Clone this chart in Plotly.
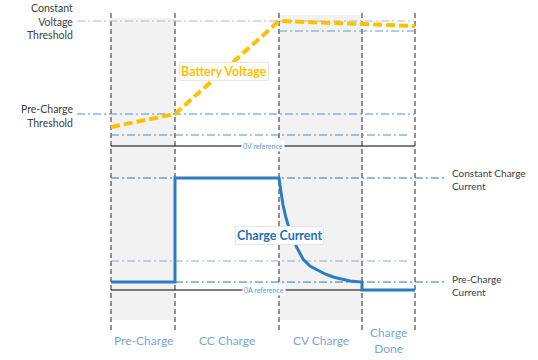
import plotly.graph_objects as go

# ---------------- data (normalised units) ----------------
# time axis: phase boundaries (arbitrary time units)
phase_bounds = [0.0, 1.0, 2.625, 3.922, 4.75]
phase_labels = ["Pre-Charge", "CC Charge", "CV Charge", "Charge<br>Done"]

# voltage (normalised, 1.0 = constant-voltage threshold)
volt_t = [0.0, 1.0, 2.625, 4.75]
volt_v = [0.152, 0.256, 1.0, 0.96]
cv_threshold = 1.0
recharge_threshold = 0.92
precharge_threshold = 0.256
low_threshold = 0.088

# current (normalised, 1.0 = constant charge current)
curr_t = [0.0, 1.0, 1.0, 2.625, 2.656, 2.688, 2.734, 2.797, 2.891, 3.0,
          3.109, 3.219, 3.344, 3.469, 3.609, 3.734, 3.922, 3.922, 4.75]
curr_i = [0.071, 0.071, 1.0, 1.0, 0.875, 0.759, 0.643, 0.527, 0.393, 0.277,
          0.214, 0.179, 0.143, 0.116, 0.098, 0.080, 0.071, 0.0, 0.0]
cc_current = 1.0
term_current = 0.259
precharge_current = 0.071

# ---------------- figure ----------------
W, H = 538, 360
XR = [-1.734375, 6.671875]
VR = [-1.712, 1.168]
IR = [-0.625, 2.5893]

fig = go.Figure()

fig.add_trace(go.Scatter(x=volt_t, y=volt_v, mode="lines", yaxis="y",
                         line=dict(color="#ffc000", width=4, dash="9px,4px"),
                         hoverinfo="skip", showlegend=False))
fig.add_trace(go.Scatter(x=curr_t, y=curr_i, mode="lines", yaxis="y2",
                         line=dict(color="#2a7cc4", width=3),
                         hoverinfo="skip", showlegend=False))

shapes = []
x0, x1, x2, x3, x4 = phase_bounds
# grey phase backgrounds
shapes.append(dict(type="rect", xref="x", yref="y", x0=x0, x1=x1, y0=-1.392, y1=1.024,
                   fillcolor="#f2f2f2", line=dict(width=0), layer="below"))
shapes.append(dict(type="rect", xref="x", yref="y", x0=x2, x1=x3, y0=-1.392, y1=1.048,
                   fillcolor="#f2f2f2", line=dict(width=0), layer="below"))
# vertical dashed phase boundaries
for b in phase_bounds:
    shapes.append(dict(type="line", xref="x", yref="y", x0=b, x1=b, y0=-1.472, y1=1.088,
                       line=dict(color="#262626", width=1, dash="5px,3px"), layer="below"))

DD = "8px,3px,2px,3px"
xl = -0.53  # left start of threshold lines
# voltage threshold lines
shapes.append(dict(type="line", xref="x", yref="y", x0=xl, x1=x4, y0=cv_threshold, y1=cv_threshold,
                   line=dict(color="#9fbcd8", width=1.2, dash=DD), layer="below"))
shapes.append(dict(type="line", xref="x", yref="y", x0=x2, x1=x4, y0=recharge_threshold, y1=recharge_threshold,
                   line=dict(color="#5b9bd5", width=1, dash=DD), layer="below"))
shapes.append(dict(type="line", xref="x", yref="y", x0=xl, x1=x4, y0=precharge_threshold, y1=precharge_threshold,
                   line=dict(color="#4a90d0", width=1, dash=DD), layer="below"))
shapes.append(dict(type="line", xref="x", yref="y", x0=x0, x1=4.67, y0=low_threshold, y1=low_threshold,
                   line=dict(color="#4a90d0", width=1, dash=DD), layer="below"))
shapes.append(dict(type="line", xref="x", yref="y", x0=x0, x1=x4, y0=0, y1=0,
                   line=dict(color="#000000", width=1), layer="below"))
# current lines
xr = 5.22
shapes.append(dict(type="line", xref="x", yref="y2", x0=x0, x1=xr, y0=cc_current, y1=cc_current,
                   line=dict(color="#1f78c8", width=1, dash=DD), layer="below"))
shapes.append(dict(type="line", xref="x", yref="y2", x0=x0, x1=4.67, y0=term_current, y1=term_current,
                   line=dict(color="#8fb0d2", width=1, dash=DD), layer="below"))
shapes.append(dict(type="line", xref="x", yref="y2", x0=x0, x1=xr, y0=precharge_current, y1=precharge_current,
                   line=dict(color="#1f78c8", width=1, dash=DD), layer="below"))
shapes.append(dict(type="line", xref="x", yref="y2", x0=x0, x1=x4, y0=0, y1=0,
                   line=dict(color="#000000", width=1), layer="below"))

FONT = "Lato"
dark = "#404040"
lblue = "#7ca5d6"

def px(xp, yp):
    return xp / W, 1 - yp / H

ann = []
def add(text, xp, yp, size, color, xanchor="center", bold=False, bg=None, border=None, align="center"):
    xx, yy = px(xp, yp)
    d = dict(text=("<b>%s</b>" % text) if bold else text, x=xx, y=yy, xref="paper", yref="paper",
             xanchor=xanchor, yanchor="middle", showarrow=False, align=align,
             font=dict(family=FONT, size=size, color=color))
    if bg:
        d["bgcolor"] = bg
        d["borderpad"] = 1
    if border:
        d["bordercolor"] = border
        d["borderwidth"] = 1
    ann.append(d)

add("Constant<br>Voltage<br>Threshold", 75, 21, 10.5, dark, xanchor="right", align="right")
add("Pre-Charge<br>Threshold", 75, 116, 10.5, dark, xanchor="right", align="right")
add("Constant Charge<br>Current", 450, 179, 10, dark, xanchor="left", align="left")
add("Pre-Charge<br>Current", 450, 285, 10, dark, xanchor="left", align="left")
add("Battery Voltage", 224, 72, 12.5, "#ffc000", bold=True, bg="white", border="#e6e6e6")
add("Charge Current", 279, 235, 12.5, "#1f6fbf", bold=True, bg="white", border="#e6e6e6")
add("0V reference", 263, 146, 7, "#5b9bd5", bg="white")
add("0A reference", 264, 290, 7, "#5b9bd5", bg="white")

centers = [(phase_bounds[i] + phase_bounds[i + 1]) / 2 for i in range(4)]
for c, lab in zip(centers, phase_labels):
    ann.append(dict(text=lab, x=c, y=(146 - 340.5) / 125, xref="x", yref="y",
                    xanchor="center", yanchor="middle", showarrow=False,
                    font=dict(family=FONT, size=12, color=lblue)))

fig.update_layout(
    width=W, height=H, autosize=False,
    margin=dict(l=0, r=0, t=0, b=0),
    paper_bgcolor="white", plot_bgcolor="white",
    xaxis=dict(range=XR, visible=False, fixedrange=True),
    yaxis=dict(range=VR, visible=False, fixedrange=True),
    yaxis2=dict(range=IR, visible=False, overlaying="y", fixedrange=True),
    shapes=shapes, annotations=ann, showlegend=False, hovermode=False,
)

fig.write_html("out.html", config={"displayModeBar": False, "staticPlot": True},
               post_script="document.body.style.margin='0';document.body.style.overflow='hidden';")
